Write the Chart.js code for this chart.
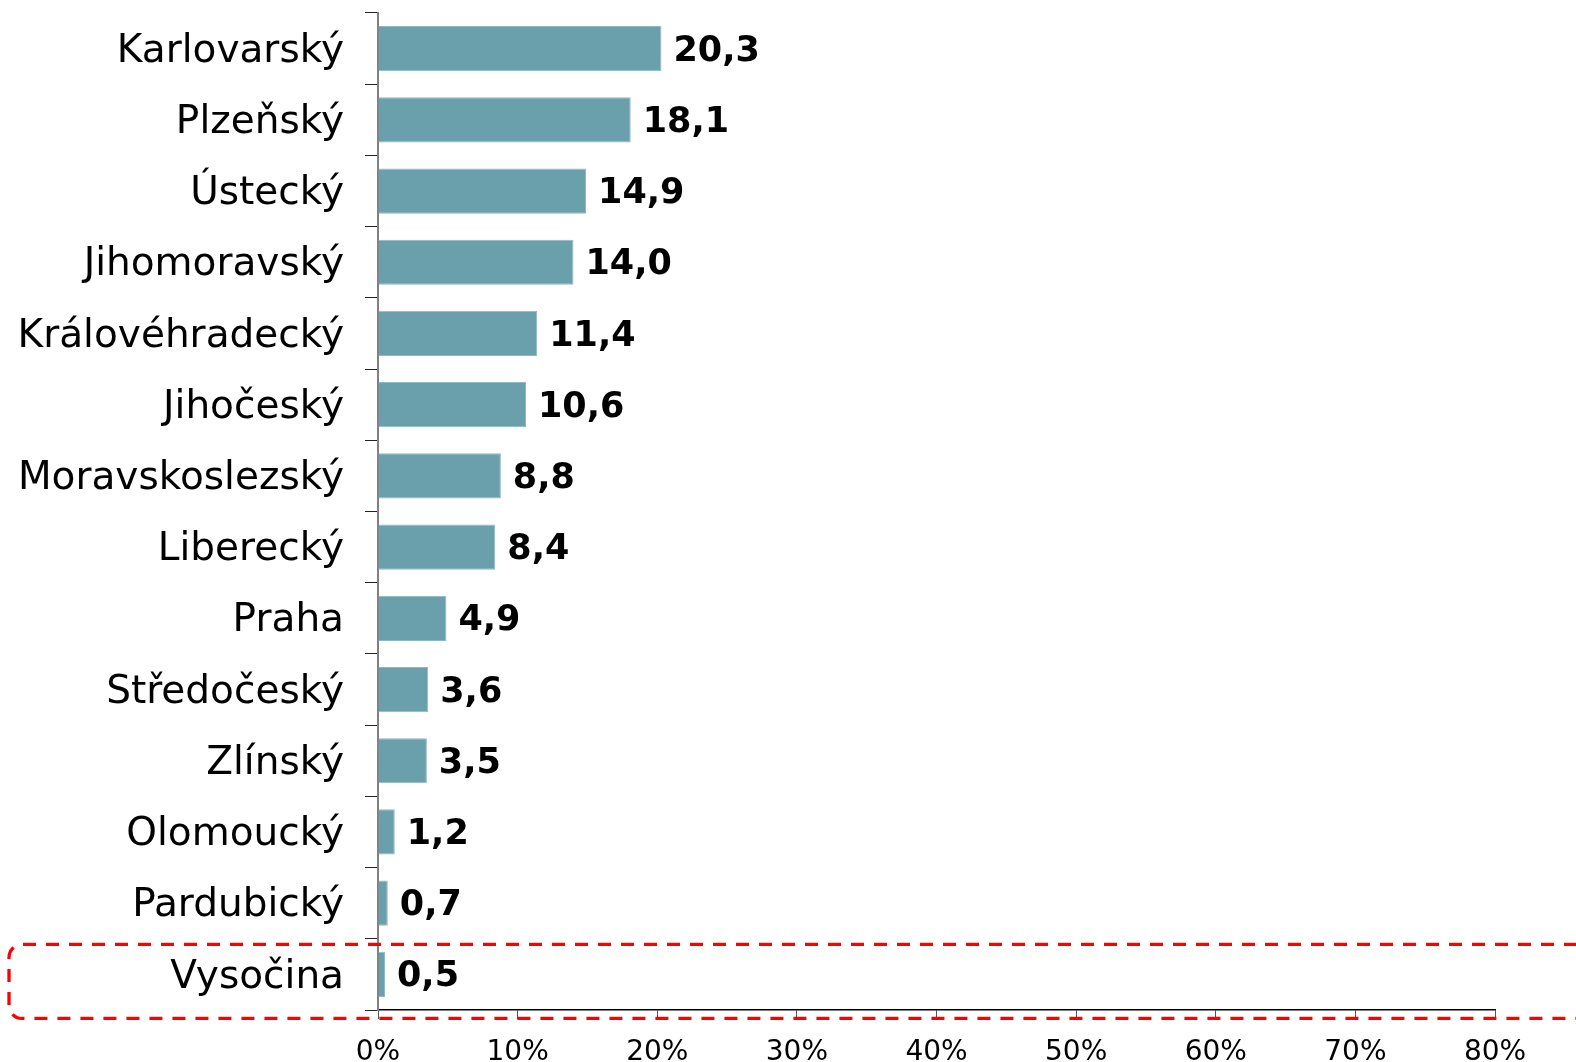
<!DOCTYPE html>
<html><head><meta charset="utf-8">
<script src="https://cdn.jsdelivr.net/npm/chart.js@4"></script>
<style>html,body{margin:0;padding:0;background:#fff}#wrap{width:1576px;height:1062px;position:relative}</style>
</head><body><div id="wrap"><canvas id="c" width="1576" height="1062"></canvas></div>
<script>
const categories = ["Karlovarský","Plzeňský","Ústecký","Jihomoravský","Královéhradecký","Jihočeský","Moravskoslezský","Liberecký","Praha","Středočeský","Zlínský","Olomoucký","Pardubický","Vysočina"];
const values = [20.3,18.1,14.9,14.0,11.4,10.6,8.8,8.4,4.9,3.6,3.5,1.2,0.7,0.5];
const valueLabels = ["20,3","18,1","14,9","14,0","11,4","10,6","8,8","8,4","4,9","3,6","3,5","1,2","0,7","0,5"];
const xTicks = [0,10,20,30,40,50,60,70,80];
const highlighted = "Vysočina";

const valuePlugin = {
  id:'vals',
  afterDatasetsDraw(chart){
    const ctx = chart.ctx;
    const meta = chart.getDatasetMeta(0);
    ctx.save();
    ctx.font = 'bold 35px "DejaVu Sans"';
    ctx.fillStyle = '#000';
    ctx.textAlign = 'left';
    ctx.textBaseline = 'middle';
    meta.data.forEach((bar,i)=>{
      ctx.fillText(valueLabels[i], bar.x + 12, bar.y + 3);
    });
    ctx.restore();
  }
};
const boxPlugin = {
  id:'box',
  afterDraw(chart){
    const ctx = chart.ctx;
    const ys = chart.scales.y;
    const idx = categories.indexOf(highlighted);
    const cy = ys.getPixelForValue(idx);
    const top = cy - 30, bottom = cy + 44, left = 9, right = 1600, r = 13;
    ctx.save();
    ctx.strokeStyle = '#ff0000';
    ctx.lineWidth = 3.3;
    ctx.setLineDash([13,10]);
    ctx.beginPath();
    ctx.moveTo(right, top);
    ctx.lineTo(left + r, top);
    ctx.arcTo(left, top, left, top + r, r);
    ctx.lineTo(left, bottom - r);
    ctx.arcTo(left, bottom, left + r, bottom, r);
    ctx.lineTo(right, bottom);
    ctx.stroke();
    ctx.restore();
  }
};

new Chart(document.getElementById('c'), {
  type:'bar',
  data:{labels:categories, datasets:[{data:values, backgroundColor:'#6a9fac', borderColor:'#8fb8c2', borderWidth:1, categoryPercentage:1, barPercentage:0.635}]},
  options:{
    indexAxis:'y', responsive:false, animation:false,
    layout:{padding:{top:13,left:0,right:81,bottom:0}},
    plugins:{legend:{display:false}, tooltip:{enabled:false}},
    scales:{
      x:{min:0,max:80,
        afterBuildTicks(s){ s.ticks = xTicks.map(v=>({value:v})); },
        afterFit(s){ s.height = 52; s.paddingLeft = 0; s.paddingRight = 0; },
        grid:{drawOnChartArea:false, drawTicks:true, tickLength:9, color:'#555'},
        border:{color:'#000', width:1.5},
        ticks:{color:'#000', font:{family:'DejaVu Sans', size:28}, padding:17, maxRotation:0, callback:(v)=>v+'%'}
      },
      y:{
        afterFit(s){ s.width = 378; s.paddingTop = 0; s.paddingBottom = 0; },
        grid:{drawOnChartArea:false, drawTicks:true, tickLength:13, color:'#222', offset:true},
        border:{color:'#808080', width:2},
        ticks:{color:'#000', font:{family:'DejaVu Sans', size:39}, padding:21, labelOffset:3}
      }
    }
  },
  plugins:[valuePlugin, boxPlugin]
});
</script></body></html>
